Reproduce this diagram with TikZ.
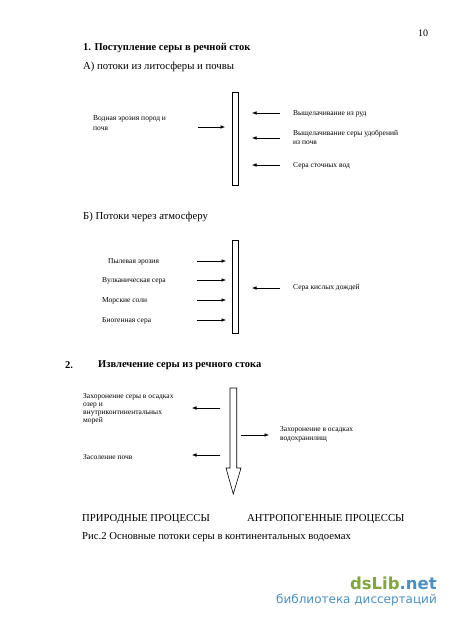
\documentclass[tikz,border=0pt]{standalone}
\usepackage{fontspec}
\setmainfont{Liberation Serif}
\newfontfamily\wmfont{DejaVu Sans}
\usetikzlibrary{arrows.meta}
\definecolor{wmgreen}{HTML}{7FA83A}
\definecolor{wmblue}{HTML}{4A90C8}
\begin{document}
\begin{tikzpicture}[x=1pt,y=-1pt,
  txt/.style={inner sep=0pt,anchor=west,align=left,font=\fontsize{7.5}{8.5}\selectfont},
  head/.style={inner sep=0pt,anchor=west,font=\fontsize{10.5}{12}\selectfont\bfseries},
  sub/.style={inner sep=0pt,anchor=west,font=\fontsize{10.7}{13}\selectfont},
  bar/.style={draw,line width=0.6pt,minimum width=6.5pt,inner sep=0pt},
  flow/.style={line width=0.6pt,-{Latex[length=4.5pt,width=3.6pt]}}]
\useasboundingbox (0,0) rectangle (450,621);
\fill[white] (0,0) rectangle (450,621);

\node[inner sep=0pt,font=\fontsize{10}{12}\selectfont] (pg) at (423,33) {10};

% Section 1
\node[head] (h1) at (83,48) {1. Поступление серы в речной сток};
\node[sub] (hA) at (83,67) {А) потоки из литосферы и почвы};

\node[bar,minimum height=93pt] (barA) at (235.5,138.5) {};
\node[txt,font=\fontsize{7.5}{10}\selectfont] (a1) at (93,123) {Водная эрозия пород и\\почв};
\coordinate (a1s) at (198,127);
\coordinate (a1e) at (225,127);
\draw[flow] (a1s) -- (a1e);

\node[txt] (r1) at (293,114) {Выщелачивание из руд};
\node[txt,font=\fontsize{7.5}{9}\selectfont] (r2) at (293,137.5) {Выщелачивание серы удобрений\\из почв};
\node[txt] (r3) at (293,166) {Сера сточных вод};
\coordinate (r1s) at (280,113); \coordinate (r1e) at (252,113);
\coordinate (r2s) at (280,138); \coordinate (r2e) at (252,138);
\coordinate (r3s) at (280,165); \coordinate (r3e) at (252,165);
\draw[flow] (r1s) -- (r1e);
\draw[flow] (r2s) -- (r2e);
\draw[flow] (r3s) -- (r3e);

% Section B
\node[sub] (hB) at (83,217) {Б) Потоки через атмосферу};
\node[bar,minimum height=93pt] (barB) at (235.5,286.5) {};
\node[txt] (b1) at (108,262) {Пылевая эрозия};
\node[txt] (b2) at (102,281) {Вулканическая сера};
\node[txt] (b3) at (102,301) {Морские соли};
\node[txt] (b4) at (102,321) {Биогенная сера};
\coordinate (b1s) at (197,261); \coordinate (b1e) at (226,261);
\coordinate (b2s) at (197,280); \coordinate (b2e) at (226,280);
\coordinate (b3s) at (197,300); \coordinate (b3e) at (226,300);
\coordinate (b4s) at (197,320); \coordinate (b4e) at (226,320);
\draw[flow] (b1s) -- (b1e);
\draw[flow] (b2s) -- (b2e);
\draw[flow] (b3s) -- (b3e);
\draw[flow] (b4s) -- (b4e);
\node[txt] (bR) at (293,288) {Сера кислых дождей};
\coordinate (bRs) at (280,288); \coordinate (bRe) at (252,288);
\draw[flow] (bRs) -- (bRe);

% Section 2
\node[head] (n2) at (65,365) {2.};
\node[head] (h2) at (98,365) {Извлечение серы из речного стока};
\draw[line width=0.6pt,line join=miter] (230,388) -- (236.7,388) -- (236.7,468) -- (241,468)
  -- (233.3,494) -- (226,468) -- (230,468) -- cycle;
\coordinate (bigtop) at (233.3,388);
\node[txt,font=\fontsize{7.5}{8}\selectfont] (c1) at (83,409) {Захоронение серы в осадках\\озер и\\внутриконтинентальных\\морей};
\node[txt] (c2) at (83,457) {Засоление почв};
\node[txt,font=\fontsize{7.5}{9}\selectfont] (c3) at (280,434.5) {Захоронение в осадках\\водохранилищ};
\coordinate (c1s) at (220,408); \coordinate (c1e) at (192,408);
\coordinate (c2s) at (220,455); \coordinate (c2e) at (192,455);
\coordinate (c3s) at (241,435); \coordinate (c3e) at (269,435);
\draw[flow] (c1s) -- (c1e);
\draw[flow] (c2s) -- (c2e);
\draw[flow] (c3s) -- (c3e);

% Bottom captions
\node[sub] (nat) at (82,519) {ПРИРОДНЫЕ ПРОЦЕССЫ};
\node[sub] (ant) at (247,519) {АНТРОПОГЕННЫЕ ПРОЦЕССЫ};
\node[inner sep=0pt,anchor=west,font=\fontsize{10.7}{12}\selectfont] (cap) at (82,537) {Рис.2 Основные потоки серы в континентальных водоемах};

% Watermark
\node[inner sep=0pt,anchor=east,font=\wmfont\bfseries\fontsize{16.5}{20}\selectfont] (wm1) at (437,583) {\textcolor{wmgreen}{dsLib}\textcolor{wmblue}{.net}};
\node[inner sep=0pt,anchor=east,font=\wmfont\fontsize{12}{13}\selectfont,text=wmblue] (wm2) at (437,600) {библиотека диссертаций};
\end{tikzpicture}
\end{document}
